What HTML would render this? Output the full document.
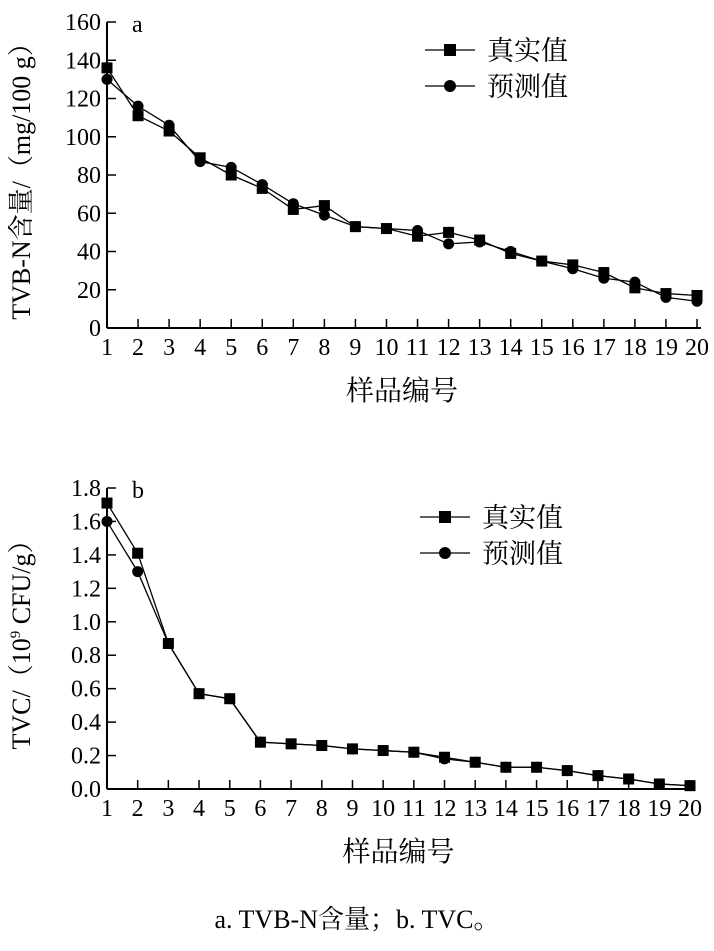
<!DOCTYPE html>
<html><head><meta charset="utf-8"><style>
body{margin:0;background:#fff}
svg text{font-family:"Liberation Serif","Noto Serif CJK SC",serif;fill:#000}
</style></head><body>
<svg id="s" width="714" height="946" xmlns="http://www.w3.org/2000/svg"></svg>
<script>
const cats=[1,2,3,4,5,6,7,8,9,10,11,12,13,14,15,16,17,18,19,20];
const aTrue=[136,111,103,89,80,73,62,64,53,52,48,50,46,39,35,33,29,21,18,17];
const aPred=[130,116,106,87,84,75,65,59,53,52,51,44,45,40,35,31,26,24,16,14];
const aTicks=[0,20,40,60,80,100,120,140,160];
const bTrue=[1.71,1.41,0.87,0.57,0.54,0.28,0.27,0.26,0.24,0.23,0.22,0.19,0.16,0.13,0.13,0.11,0.08,0.06,0.03,0.02];
const bPred=[1.60,1.30,0.87,0.57,0.54,0.28,0.27,0.26,0.24,0.23,0.22,0.18,0.16,0.13,0.13,0.11,0.08,0.06,0.03,0.02];
const bTicks=["0.0","0.2","0.4","0.6","0.8","1.0","1.2","1.4","1.6","1.8"];
const S=document.getElementById('s');const NS='http://www.w3.org/2000/svg';
function E(t,a,p){const e=document.createElementNS(NS,t);for(const k in a)e.setAttribute(k,a[k]);(p||S).appendChild(e);return e;}
function chart(cfg){
 const g=E('g',{});
 
 
 const X=i=>cfg.x0+(i-1)*(cfg.x1-cfg.x0)/19;
 const Y=v=>cfg.y0-(v-cfg.vmin)/(cfg.vmax-cfg.vmin)*(cfg.y0-cfg.yt);
 E('line',{x1:cfg.x0,y1:cfg.y0,x2:cfg.x1+4,y2:cfg.y0,stroke:'#000','stroke-width':2},g);
 E('line',{x1:cfg.x0,y1:cfg.y0,x2:cfg.x0,y2:cfg.yt,stroke:'#000','stroke-width':2},g);
 cfg.ticks.forEach(t=>{const v=parseFloat(t);const y=Y(v);
  E('line',{x1:cfg.x0,y1:y,x2:cfg.x0+9,y2:y,stroke:'#000','stroke-width':1.5},g);
  const tx=E('text',{x:cfg.x0-6,y:y+8,'text-anchor':'end','font-size':24},g);tx.textContent=t;
  });
 cats.forEach(c=>{const x=X(c);
  E('line',{x1:x,y1:cfg.y0,x2:x,y2:cfg.y0-9,stroke:'#000','stroke-width':1.5},g);
  const tx=E('text',{x:x,y:cfg.y0+27,'text-anchor':'middle','font-size':24,textLength:c>9?24:'' ,lengthAdjust:'spacingAndGlyphs'},g);tx.textContent=c;
  if(c<10)tx.removeAttribute('textLength');
  });
 const l=E('text',{x:cfg.x0+25,y:cfg.yt+10,'font-size':24},g);l.textContent=cfg.letter;
 
 [[cfg.tv,'sq','series-true'],[cfg.pv,'ci','series-pred']].forEach(([d,m,n])=>{
  const pl=E('polyline',{points:d.map((v,i)=>X(cats[i])+','+Y(v)).join(' '),fill:'none',stroke:'#000','stroke-width':1.3},g);
  
  d.forEach((v,i)=>{const x=X(cats[i]),y=Y(v);let mk;
   if(m=='sq')mk=E('rect',{x:x-5.5,y:y-5.5,width:11,height:11,fill:'#000'},g);
   else mk=E('circle',{cx:x,cy:y,r:5.5,fill:'#000'},g);
   });
 });
 [['真实值','sq',cfg.ly],['预测值','ci',cfg.ly+36]].forEach(([t,m,y])=>{
  const lg=E('g',{},g);
  E('line',{x1:cfg.lx,y1:y,x2:cfg.lx+50,y2:y,stroke:'#000','stroke-width':1.3},lg);
  if(m=='sq')E('rect',{x:cfg.lx+19,y:y-6,width:12,height:12,fill:'#000'},lg);else E('circle',{cx:cfg.lx+25,cy:y,r:6,fill:'#000'},lg);
  const tx=E('text',{x:cfg.lx+62,y:y+10,'font-size':27},lg);tx.textContent=t;});
 const xt=E('text',{x:(cfg.x0+cfg.x1)/2,y:cfg.y0+72,'text-anchor':'middle','font-size':28},g);xt.textContent='样品编号';
 
 const yt=E('text',{x:0,y:0,'text-anchor':'middle','font-size':26,transform:`translate(${cfg.ytx},${(cfg.y0+cfg.yt)/2}) rotate(-90)`},g);yt.innerHTML=cfg.ytitle;
 
}
chart({name:'chart-a',x0:107,x1:697,y0:328,yt:22,vmin:0,vmax:160,ticks:aTicks.map(String),tv:aTrue,pv:aPred,letter:'a',lx:425,ly:50,ytx:30,ytitle:'TVB-N含量/（mg/100 g）'});
chart({name:'chart-b',x0:107,x1:690,y0:789,yt:488,vmin:0,vmax:1.8,ticks:bTicks,tv:bTrue,pv:bPred,letter:'b',lx:420,ly:517,ytx:30,ytitle:'TVC/（10<tspan font-size="15" dy="-10">9</tspan><tspan dy="10"> CFU/g）</tspan>'});
const cap=E('text',{x:357,y:928,'text-anchor':'middle','font-size':26});cap.textContent='a. TVB-N含量；b. TVC。';

</script>
</body></html>
